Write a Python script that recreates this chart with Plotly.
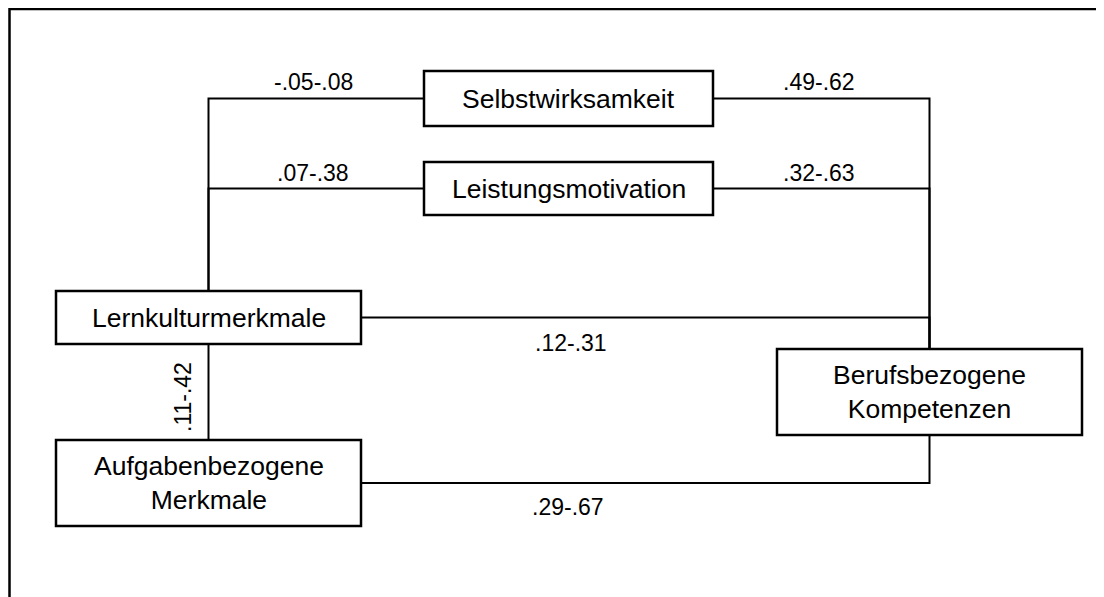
import plotly.graph_objects as go

# node labels and path coefficients (ranges)
nodes = [
    "Selbstwirksamkeit",
    "Leistungsmotivation",
    "Lernkulturmerkmale",
    "Aufgabenbezogene<br>Merkmale",
    "Berufsbezogene<br>Kompetenzen",
]
paths = [
    ("Lernkulturmerkmale", "Selbstwirksamkeit", "-.05-.08"),
    ("Lernkulturmerkmale", "Leistungsmotivation", ".07-.38"),
    ("Selbstwirksamkeit", "Berufsbezogene<br>Kompetenzen", ".49-.62"),
    ("Leistungsmotivation", "Berufsbezogene<br>Kompetenzen", ".32-.63"),
    ("Lernkulturmerkmale", "Berufsbezogene<br>Kompetenzen", ".12-.31"),
    ("Lernkulturmerkmale", "Aufgabenbezogene<br>Merkmale", ".11-.42"),
    ("Aufgabenbezogene<br>Merkmale", "Berufsbezogene<br>Kompetenzen", ".29-.67"),
]

# box geometry in page pixels (x0, y0, x1, y1)
boxes = {
    nodes[0]: (424, 71, 713, 126),
    nodes[1]: (424, 162, 713, 215),
    nodes[2]: (56, 291, 361, 344),
    nodes[3]: (56, 440, 361, 526),
    nodes[4]: (777, 349, 1082, 435),
}
# where each coefficient label sits, and its rotation
label_pos = [(313, 82, 0), (313, 173, 0), (819, 82, 0), (819, 173, 0),
             (571, 343, 0), (183, 397, -90), (568, 507, 0)]

FONT = "Liberation Sans, Arial, sans-serif"
PAGE_W, PAGE_H = 1104, 597
BODY = 8  # default body margin of the html page


def center(name):
    x0, y0, x1, y1 = boxes[name]
    return (x0 + x1) / 2, (y0 + y1) / 2


left_bus = center(nodes[2])[0]
right_bus = center(nodes[4])[0]

fig = go.Figure()


def add_line(xs, ys):
    fig.add_trace(go.Scatter(x=xs, y=ys, mode="lines",
                             line=dict(color="black", width=2),
                             hoverinfo="skip", showlegend=False))


for src, dst, coef in paths:
    sx, sy = center(src)
    dx, dy = center(dst)
    if src == nodes[2] and dst in (nodes[0], nodes[1]):
        add_line([boxes[dst][0], left_bus, left_bus], [dy, dy, sy])
    elif dst == nodes[4] and src in (nodes[0], nodes[1]):
        add_line([boxes[src][2], right_bus, right_bus], [sy, sy, dy])
    elif src == nodes[2] and dst == nodes[3]:
        add_line([sx, dx], [boxes[src][3], boxes[dst][1]])
    elif src == nodes[2]:
        add_line([boxes[src][2], right_bus, right_bus], [sy, sy, dy])
    else:
        add_line([boxes[src][2], right_bus, right_bus], [sy, sy, boxes[dst][3]])

# outer frame, open to the right and bottom edges of the page
shapes = [dict(type="rect", x0=9.5, y0=9, x1=1112, y1=620,
               line=dict(color="black", width=2.5), layer="below")]
for name in nodes:
    x0, y0, x1, y1 = boxes[name]
    shapes.append(dict(type="rect", x0=x0, y0=y0, x1=x1, y1=y1,
                       fillcolor="white", line=dict(color="black", width=2.5)))

annotations = []
for name in nodes:
    cx, cy = center(name)
    annotations.append(dict(x=cx, y=cy, text=name, showarrow=False,
                            font=dict(family=FONT, size=26.5, color="black")))
for (src, dst, coef), (x, y, ang) in zip(paths, label_pos):
    annotations.append(dict(x=x, y=y, text=coef, showarrow=False, textangle=ang,
                            font=dict(family=FONT, size=23, color="black")))

fig.update_layout(
    width=PAGE_W - BODY, height=PAGE_H - BODY,
    margin=dict(l=0, r=0, t=0, b=0),
    paper_bgcolor="white", plot_bgcolor="white",
    shapes=shapes, annotations=annotations,
    xaxis=dict(range=[BODY, PAGE_W], visible=False, fixedrange=True),
    yaxis=dict(range=[PAGE_H, BODY], visible=False, fixedrange=True),
)

fig.write_html("out.html")
